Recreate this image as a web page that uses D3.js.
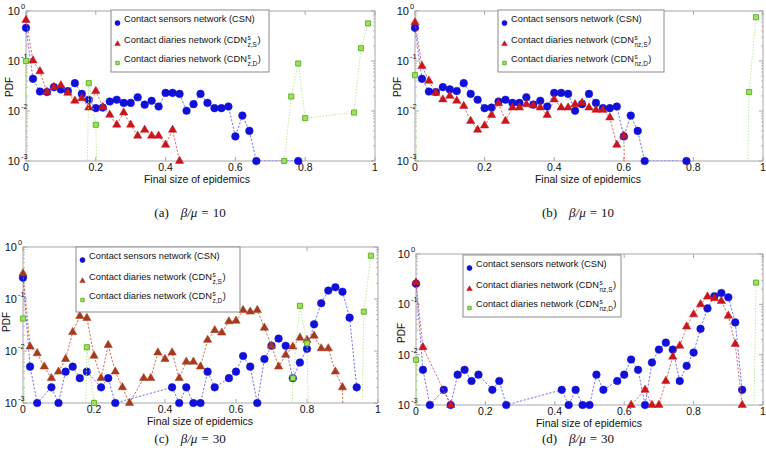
<!DOCTYPE html>
<html>
<head>
<meta charset="utf-8">
<script src="https://cdn.jsdelivr.net/npm/d3@7"></script>
<style>
  body { margin: 0; background: #fff; }
  svg { display: block; }
  text { font-family: "Liberation Sans", Arial, sans-serif; fill: #111; }
</style>
</head>
<body>
<svg width="766" height="456"></svg>
<script>
// ---------- data ----------
const xTicks = [0, 0.2, 0.4, 0.6, 0.8, 1];
const yTicks = [1e-3, 1e-2, 1e-1, 1];
const yTickExp = ["-3", "-2", "-1", "0"];

// CSN, beta/mu = 10
const csn10X = [0, 0.02, 0.04, 0.06, 0.08, 0.10, 0.12, 0.14, 0.16, 0.18, 0.20, 0.22, 0.24, 0.26, 0.28, 0.30, 0.32,
  0.34, 0.36, 0.38, 0.40, 0.42, 0.44, 0.46, 0.48, 0.50, 0.52, 0.54, 0.56, 0.58, 0.60, 0.62, 0.64, 0.66, 0.78];
const csn10Y = [0.46, 0.044, 0.0245, 0.024, 0.030, 0.027, 0.025, 0.036, 0.022, 0.0168, 0.0114, 0.0117, 0.0155, 0.0168,
  0.0145, 0.0145, 0.0188, 0.0134, 0.016, 0.0123, 0.023, 0.023, 0.022, 0.0101, 0.0137, 0.022, 0.0145, 0.0114, 0.0114,
  0.0123, 0.0031, 0.0081, 0.004, 0.001, 0.001];

// CDN z,S  beta/mu = 10
const cdnZS10X = [0, 0.02, 0.04, 0.06, 0.08, 0.10, 0.12, 0.14, 0.16, 0.18, 0.20, 0.22, 0.24, 0.26, 0.28, 0.30,
  0.32, 0.34, 0.36, 0.38, 0.40, 0.42, 0.44, 0.46];
const cdnZS10Y = [0.66, 0.102, 0.062, 0.024, 0.030, 0.0326, 0.023, 0.016, 0.018, 0.0117, 0.025, 0.012, 0.0084, 0.0053,
  0.0093, 0.0053, 0.0032, 0.0042, 0.0032, 0.0032, 0.0021, 0.0042, 0.001, 0];

// CDN z,D  beta/mu = 10
const cdnZD10X = [0, 0.02, 0.16, 0.18, 0.20, 0.22, 0.72, 0.74, 0.76, 0.78, 0.80, 0.94, 0.96, 0.98];
const cdnZD10Y = [0.1, 0, 0, 0.036, 0.0053, 0, 0, 0.001, 0.0195, 0.089, 0.0072, 0.0093, 0.18, 0.565];

// CDN nz,S  beta/mu = 10
const cdnNS10X = [0, 0.02, 0.04, 0.06, 0.08, 0.10, 0.12, 0.14, 0.16, 0.18, 0.20, 0.22, 0.24, 0.26, 0.28, 0.30,
  0.32, 0.34, 0.36, 0.38, 0.40, 0.42, 0.44, 0.46, 0.48, 0.50, 0.52, 0.54, 0.56, 0.58, 0.60, 0.62];
const cdnNS10Y = [0.59, 0.079, 0.04, 0.023, 0.017, 0.020, 0.016, 0.0126, 0.0063, 0.0042, 0.0051, 0.0083, 0.0142,
  0.0063, 0.0117, 0.0117, 0.0136, 0.013, 0.0117, 0.0083, 0.017, 0.0117, 0.0117, 0.0136, 0.0146, 0.0117, 0.0105,
  0.0105, 0.0074, 0.0021, 0.0032, 0];

// CDN nz,D  beta/mu = 10
const cdnND10X = [0, 0.02, 0.94, 0.96, 0.98];
const cdnND10Y = [0.052, 0, 0, 0.024, 0.75];

// CSN, beta/mu = 30
const csn30X = [0, 0.02, 0.04, 0.08, 0.10, 0.12, 0.14, 0.16, 0.18, 0.22, 0.24, 0.26, 0.42, 0.44, 0.46, 0.48, 0.50,
  0.52, 0.54, 0.58, 0.60, 0.62, 0.64, 0.66, 0.68, 0.70, 0.72, 0.74, 0.76, 0.78, 0.80, 0.82, 0.84, 0.86, 0.88, 0.90,
  0.92, 0.94];
const csn30Y = [0.257, 0.005, 0.001, 0.002, 0.001, 0.004, 0.005, 0.003, 0.004, 0.002, 0.003, 0.001, 0.002, 0.001,
  0.002, 0.001, 0.001, 0.004, 0.002, 0.003, 0.004, 0.008, 0.005, 0.001, 0.007, 0.0126, 0.0173, 0.0126, 0.003, 0.006,
  0.011, 0.0326, 0.083, 0.145, 0.168, 0.138, 0.0437, 0.002];

// CDN z,S  beta/mu = 30
const cdnZS30X = [0, 0.02, 0.04, 0.06, 0.08, 0.10, 0.12, 0.14, 0.16, 0.18, 0.20, 0.22, 0.24, 0.26, 0.28, 0.30,
  0.34, 0.36, 0.38, 0.40, 0.42, 0.44, 0.46, 0.48, 0.50, 0.52, 0.54, 0.56, 0.58, 0.60, 0.62, 0.64, 0.66, 0.68, 0.70,
  0.72, 0.74, 0.76, 0.78, 0.80, 0.82, 0.84, 0.86, 0.88, 0.90, 0.92];
const cdnZS30Y = [0.31, 0.0121, 0.009, 0.005, 0.003, 0.004, 0.007, 0.023, 0.047, 0.043, 0.0081, 0.003, 0.013, 0.004,
  0.002, 0.001, 0.003, 0.003, 0.0093, 0.007, 0.0093, 0.003, 0.0062, 0.0062, 0.005, 0.0163, 0.025, 0.0225, 0.037,
  0.038, 0.061, 0.057, 0.061, 0.028, 0.0126, 0.005, 0.0084, 0.0121, 0.018, 0.0163, 0.0196, 0.0112, 0.0112, 0.004,
  0.002, 0];

// CDN z,D  beta/mu = 30
const cdnZD30X = [0, 0.02, 0.16, 0.18, 0.20, 0.22, 0.74, 0.76, 0.78, 0.80, 0.82, 0.94, 0.96, 0.98];
const cdnZD30Y = [0.042, 0, 0, 0.0118, 0.001, 0, 0, 0.003, 0.074, 0.014, 0, 0, 0.057, 0.68];

// CDN nz,S  beta/mu = 30
const cdnNS30X = [0, 0.02, 0.10, 0.12, 0.60, 0.62, 0.66, 0.68, 0.70, 0.72, 0.74, 0.76, 0.78, 0.80, 0.82, 0.84,
  0.86, 0.88, 0.90, 0.92, 0.94, 0.96];
const cdnNS30Y = [0.27, 0.014, 0.001, 0, 0, 0.001, 0.002, 0.001, 0.001, 0.003, 0.0091, 0.015, 0.036, 0.063, 0.1,
  0.142, 0.132, 0.116, 0.059, 0.0163, 0.001, 0];

// CDN nz,D  beta/mu = 30
const cdnND30X = [0, 0.02, 0.96, 0.98];
const cdnND30Y = [0.0079, 0, 0, 0.27];

// ---------- styles ----------
const blue = { fill: "#1010d8", line: "#6464ee", shape: "circle" };
const red = { fill: "#c8161c", line: "#d85a5a", shape: "triangle" };
const redDark = { fill: "#a63a1c", line: "#c8603e", shape: "triangle" };
const green = { fill: "#9ee05c", stroke: "#58b020", line: "#b8ea90", shape: "square" };

const panels = [
  { box: [26, 11, 375, 161], legend: [111, 10, 269, 72], tag: "(a)", ratio: "10", sub: "z", cap: [190, 217],
    ylab: [9, 87], xlab: [197, 183], reds: red,
    series: [[csn10X, csn10Y, blue], [cdnZS10X, cdnZS10Y, red], [cdnZD10X, cdnZD10Y, green]] },
  { box: [415, 11, 763, 161], legend: [498, 10, 664, 72], tag: "(b)", ratio: "10", sub: "nz", cap: [578, 217],
    ylab: [397, 87], xlab: [588, 183], reds: red,
    series: [[csn10X, csn10Y, blue], [cdnNS10X, cdnNS10Y, red], [cdnND10X, cdnND10Y, green]] },
  { box: [23, 247, 378, 403], legend: [76, 247, 240, 312], tag: "(c)", ratio: "30", sub: "z", cap: [190, 443],
    ylab: [6, 322], xlab: [200, 425], reds: redDark,
    series: [[csn30X, csn30Y, blue], [cdnZS30X, cdnZS30Y, redDark], [cdnZD30X, cdnZD30Y, green]] },
  { box: [416, 254, 763, 405], legend: [463, 255, 621, 317], tag: "(d)", ratio: "30", sub: "nz", cap: [578, 443],
    ylab: [401, 333], xlab: [589, 427], reds: red,
    series: [[csn30X, csn30Y, blue], [cdnNS30X, cdnNS30Y, red], [cdnND30X, cdnND30Y, green]] }
];

const svg = d3.select("svg");
const frameColor = "#a8a8a8";

function marker(g, style, cx, cy, scale) {
  let path;
  if (style.shape === "circle") path = d3.symbol(d3.symbolCircle, 46 * scale)();
  else if (style.shape === "triangle") path = d3.symbol(d3.symbolTriangle, 30 * scale)();
  else path = d3.symbol(d3.symbolSquare, 26 * scale)();
  g.append("path")
    .attr("d", path)
    .attr("transform", `translate(${cx},${cy})`)
    .attr("fill", style.fill)
    .attr("stroke", style.stroke || style.fill)
    .attr("stroke-width", style.shape === "square" ? 0.9 : 0.5);
}

panels.forEach((p, pi) => {
  const [x0, y0, x1, y1] = p.box;
  const x = d3.scaleLinear().domain([0, 1]).range([x0, x1]);
  const y = d3.scaleLog().domain([1e-3, 1]).range([y1, y0]);
  const g = svg.append("g");
  const clipId = "clip" + pi;
  svg.append("clipPath").attr("id", clipId)
    .append("rect").attr("x", x0).attr("y", y0).attr("width", x1 - x0).attr("height", y1 - y0);

  // frame
  g.append("rect")
    .attr("x", x0).attr("y", y0).attr("width", x1 - x0).attr("height", y1 - y0)
    .attr("fill", "none").attr("stroke", frameColor).attr("stroke-width", 1);

  // x ticks + labels
  xTicks.forEach(t => {
    g.append("line").attr("x1", x(t)).attr("x2", x(t)).attr("y1", y1).attr("y2", y1 - 4)
      .attr("stroke", frameColor);
    g.append("line").attr("x1", x(t)).attr("x2", x(t)).attr("y1", y0).attr("y2", y0 + 4)
      .attr("stroke", frameColor);
    g.append("text").attr("x", x(t)).attr("y", y1 + 10)
      .attr("text-anchor", "middle").style("font-size", "10.5px").text(t);
  });

  // y ticks (major + minor) + labels
  yTicks.forEach((t, i) => {
    [[x0, 4], [x1, -4]].forEach(([xx, d]) => {
      g.append("line").attr("x1", xx).attr("x2", xx + d).attr("y1", y(t)).attr("y2", y(t))
        .attr("stroke", frameColor);
    });
    g.append("text").attr("x", x0 - 6).attr("y", y(t) + 4)
      .attr("text-anchor", "end").style("font-size", "11px").text("10");
    g.append("text").attr("x", x0 - 5).attr("y", y(t) - 2)
      .style("font-size", "7.5px").text(yTickExp[i]);
  });
  y.ticks().filter(t => !yTicks.includes(t)).forEach(t => {
    [[x0, 2], [x1, -2]].forEach(([xx, d]) => {
      g.append("line").attr("x1", xx).attr("x2", xx + d).attr("y1", y(t)).attr("y2", y(t))
        .attr("stroke", frameColor).attr("stroke-width", 0.8);
    });
  });

  // axis titles
  g.append("text").attr("x", p.xlab[0]).attr("y", p.xlab[1])
    .attr("text-anchor", "middle").style("font-size", "10.5px").text("Final size of epidemics");
  g.append("text")
    .attr("transform", `translate(${p.ylab[0] + 4},${p.ylab[1]}) rotate(-90)`)
    .attr("text-anchor", "middle").style("font-size", "10px").text("PDF");

  // series
  p.series.forEach(([xs, ys, style]) => {
    const pts = xs.map((v, i) => [v, ys[i]]);
    g.append("path").datum(pts)
      .attr("clip-path", `url(#${clipId})`)
      .attr("fill", "none")
      .attr("stroke", style.line)
      .attr("stroke-width", 0.9)
      .attr("stroke-dasharray", style.shape === "square" ? "1.5,1.5" : "2.2,1.6")
      .attr("d", d3.line().x(d => x(d[0])).y(d => y(d[1] > 0 ? d[1] : 1e-9)));
    pts.filter(d => d[1] > 0).forEach(d => marker(g, style, x(d[0]), y(d[1]), 1));
  });

  // legend
  const [lx0, ly0, lx1, ly1] = p.legend;
  const lg = svg.append("g");
  lg.append("rect").attr("x", lx0).attr("y", ly0).attr("width", lx1 - lx0).attr("height", ly1 - ly0)
    .attr("fill", "#fff").attr("stroke", "#8a8a8a").attr("stroke-width", 1);
  const rows = [ly0 + 9, ly0 + 30, ly0 + 49];
  const styles = [blue, p.reds, green];
  rows.forEach((ry, i) => {
    marker(lg, styles[i], lx0 + 6.5, ry + 4, 0.45);
    const t = lg.append("text").attr("x", lx0 + 13).attr("y", ry + 3.3).style("font-size", "9.3px");
    if (i === 0) {
      t.text("Contact sensors network (CSN)");
      return;
    }
    t.text("Contact diaries network (CDN");
    const w = t.node().getComputedTextLength();
    const sx = lx0 + 13 + w + 0.5;
    lg.append("text").attr("x", sx).attr("y", ry - 0.5).style("font-size", "6.5px").text("s");
    const sub = lg.append("text").attr("x", sx).attr("y", ry + 6.5).style("font-size", "6.5px")
      .text(p.sub + "," + (i === 1 ? "S" : "D"));
    const sw = sub.node().getComputedTextLength();
    lg.append("text").attr("x", sx + sw + 0.5).attr("y", ry + 3.3).style("font-size", "9.3px").text(")");
  });

  // caption
  const cap = svg.append("text").attr("x", p.cap[0]).attr("y", p.cap[1])
    .attr("text-anchor", "middle")
    .style("font-family", "'Liberation Serif', 'Times New Roman', serif")
    .style("font-size", "13px");
  cap.append("tspan").text(p.tag);
  cap.append("tspan").attr("dx", 12).style("font-style", "italic").text("β/μ");
  cap.append("tspan").attr("dx", 4).text("=");
  cap.append("tspan").attr("dx", 4).text(p.ratio);
});
</script>
</body>
</html>
